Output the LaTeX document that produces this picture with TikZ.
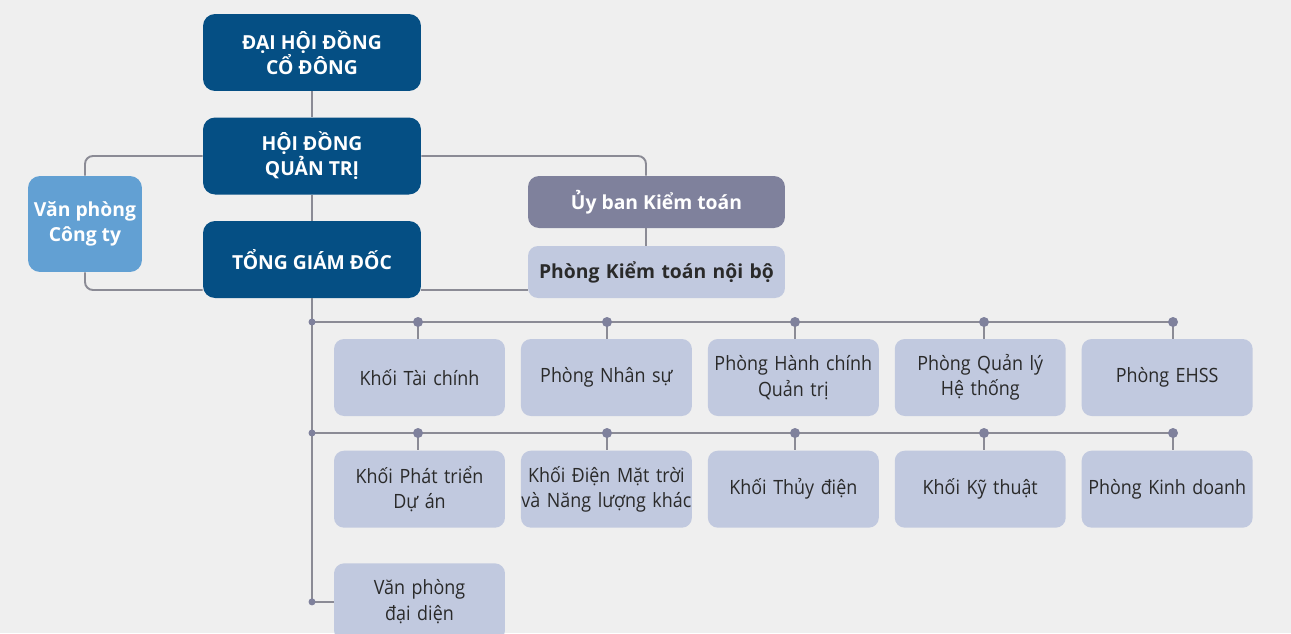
\documentclass[tikz,border=0pt]{standalone}
\usepackage{fontspec}
\setmainfont{Open Sans}
\newfontfamily\narrow{Open Sans}[FakeStretch=0.91]
\usepackage{tikz}
\usetikzlibrary{
  	positioning,
  	calc
  }
\definecolor{navy}{HTML}{054F84}
\definecolor{sky}{HTML}{62A0D3}
\definecolor{slate}{HTML}{7F819C}
\definecolor{pale}{HTML}{C1C9DF}
\definecolor{wirecol}{HTML}{8B8B95}
\definecolor{ink}{HTML}{2A2A2A}
\definecolor{bg}{HTML}{EFEFEF}
\tikzstyle{chief}=[fill=navy,text=white,font=\fontsize{11}{14.2}\selectfont\bfseries,rounded corners=0.24cm,minimum width=4.36cm,minimum height=1.54cm,align=center,inner sep=0pt]
\tikzstyle{office}=[fill=sky,text=white,font=\fontsize{11}{14.2}\selectfont\bfseries,rounded corners=0.24cm,minimum width=2.28cm,minimum height=1.92cm,align=center,inner sep=0pt]
\tikzstyle{board}=[fill=slate,text=white,font=\fontsize{11}{14.2}\selectfont\bfseries,rounded corners=0.22cm,minimum width=5.14cm,minimum height=1.04cm,align=center,inner sep=0pt]
\tikzstyle{unit}=[fill=pale,text=ink,font=\narrow\fontsize{11.2}{14.5}\selectfont,rounded corners=0.2cm,text width=3.42cm,minimum width=3.42cm,minimum height=1.54cm,align=center,inner sep=0pt]
\tikzstyle{wire}=[draw=wirecol,line width=1.1pt]

\begin{document}
\begin{tikzpicture}[x=0.02cm,y=-0.02cm]
    \fill[bg] (0,0) rectangle (1291,633);
    \clip (0,0) rectangle (1291,633);
    % top of the chart
    \node[chief] (dh) at (312,52.5) {ĐẠI HỘI ĐỒNG\\CỔ ĐÔNG};
    \node[chief] (hd) at (312,156) {HỘI ĐỒNG\\QUẢN TRỊ};
    \node[chief] (tg) at (312,259.5) {TỔNG GIÁM ĐỐC};
    \node[office] (vp) at (85,224) {Văn phòng\\Công ty};
    \node[board] (ub) at (656.5,202) {Ủy ban Kiểm toán};
    \node[unit,font=\fontsize{11}{14.5}\selectfont\bfseries,text width=5.14cm,minimum width=5.14cm,minimum height=1.04cm] (kt) at (656.5,272) {Phòng Kiểm toán nội bộ};
    % departments
    \node[unit] (k1) at (419.5,377.5) {Khối Tài chính};
    \node[unit,right=0.305cm of k1] (k2) {Phòng Nhân sự};
    \node[unit,right=0.305cm of k2] (k3) {Phòng Hành chính\\Quản trị};
    \node[unit,right=0.305cm of k3] (k4) {Phòng Quản lý\\Hệ thống};
    \node[unit,right=0.305cm of k4] (k5) {Phòng EHSS};
    \node[unit,below=0.68cm of k1] (m1) {Khối Phát triển\\Dự án};
    \node[unit,right=0.305cm of m1] (m2) {Khối Điện Mặt trời\\và Năng lượng khác};
    \node[unit,right=0.305cm of m2] (m3) {Khối Thủy điện};
    \node[unit,right=0.305cm of m3] (m4) {Khối Kỹ thuật};
    \node[unit,right=0.305cm of m4] (m5) {Phòng Kinh doanh};
    \node[unit,below=0.7cm of m1] (vd) {Văn phòng\\đại diện};
    % connectors
    \coordinate (lo) at (0,290);
    \coordinate (kx) at (646,0);
    \coordinate (b1) at (0,322);
    \coordinate (b2) at (0,433);
    \draw[wire] (dh) -- (hd);
    \draw[wire] (hd) -- (tg);
    \draw[wire,rounded corners=0.16cm] (hd.west) -| (vp.north);
    \draw[wire,rounded corners=0.16cm] (vp.south) |- (tg.west |- lo);
    \draw[wire,rounded corners=0.16cm] (hd.east) -| (kx |- ub.north);
    \draw[wire] (kx |- ub.south) -- (kx |- kt.north);
    \draw[wire] (tg.east |- lo) -- (kt.west |- lo);
    \draw[wire] (tg.south) |- (vd.west);
    \foreach \x [count=\i] in {418,607,795,984,1173} {
      \coordinate (p\i) at (\x,322);
      \coordinate (q\i) at (\x,433);
    }
    \draw[wire] (tg.south |- b1) -- (p5);
    \draw[wire] (tg.south |- b2) -- (q5);
    \foreach \i in {1,...,5} {
      \draw[wire] (p\i) -- (p\i |- k\i.north);
      \draw[wire] (q\i) -- (q\i |- m\i.north);
      \fill[slate] (p\i) circle (5);
      \fill[slate] (q\i) circle (5);
    }
    \fill[slate] (tg.south |- b1) circle (3.5);
    \fill[slate] (tg.south |- b2) circle (3.5);
    \fill[slate] (tg.south |- vd.west) circle (3.5);
\end{tikzpicture}
\end{document}
